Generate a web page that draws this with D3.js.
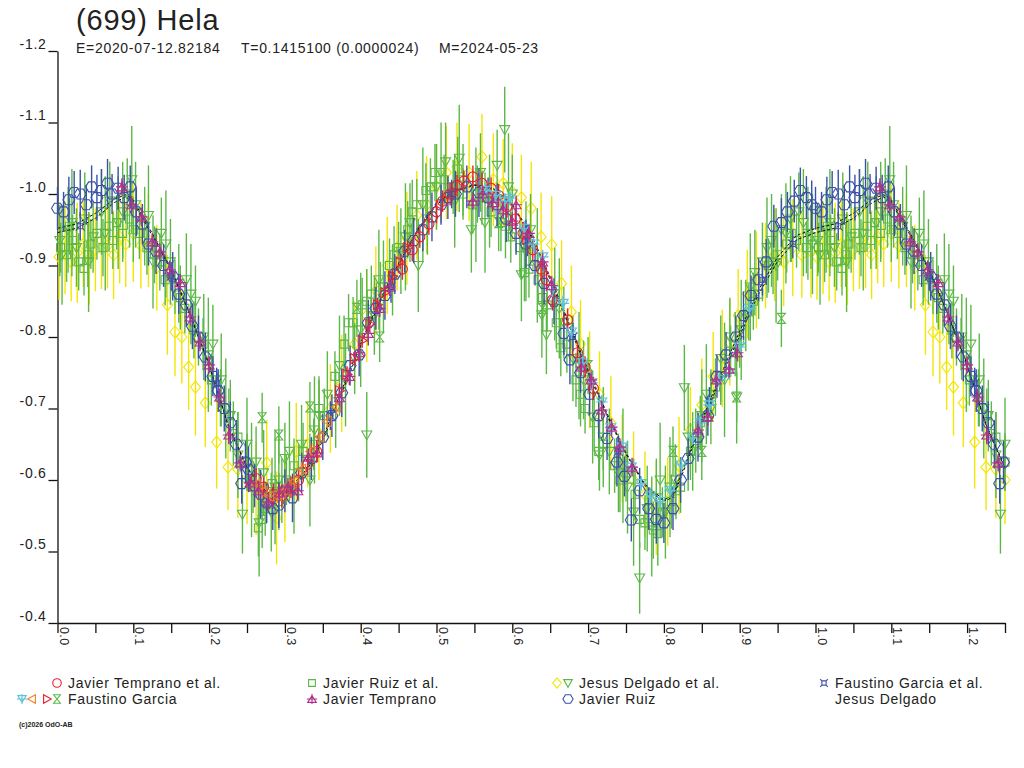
<!DOCTYPE html>
<html>
<head>
<meta charset="utf-8">
<script src="https://cdn.jsdelivr.net/npm/d3@7"></script>
<style>
  body { margin: 0; background: #fff; }
  text { font-family: "Liberation Sans", Arial, sans-serif; fill: #222; }
</style>
</head>
<body>
<svg id="grafico" width="1024" height="768"></svg>
<script>
// curva di luce (699) Hela - fase, magnitudine, errore

const titolo = '(699) Hela';
const sottotitolo = ['E=2020-07-12.82184', 'T=0.1415100 (0.0000024)', 'M=2024-05-23'];
const copyright = '(c)2026 OdO-AB';

const yTick = [-1.2, -1.1, -1.0, -0.9, -0.8, -0.7, -0.6, -0.5, -0.4];
const xTick = [0, 0.05, 0.1, 0.15, 0.2, 0.25, 0.3, 0.35, 0.4, 0.45, 0.5, 0.55, 0.6, 0.65,
               0.7, 0.75, 0.8, 0.85, 0.9, 0.95, 1.0, 1.05, 1.1, 1.15, 1.2, 1.25];
const xEtichette = [0, 0.1, 0.2, 0.3, 0.4, 0.5, 0.6, 0.7, 0.8, 0.9, 1.0, 1.1, 1.2];

// modello (due fit, linee tratteggiate)
const curvaA = [[0.000,-0.946],[0.025,-0.952],[0.050,-0.966],[0.075,-0.988],[0.090,-0.996],[0.100,-0.988],
  [0.125,-0.942],[0.150,-0.893],[0.175,-0.830],[0.200,-0.760],[0.225,-0.676],[0.250,-0.616],[0.275,-0.582],
  [0.288,-0.576],[0.300,-0.580],[0.325,-0.606],[0.350,-0.655],[0.375,-0.722],[0.400,-0.788],[0.425,-0.848],
  [0.450,-0.900],[0.475,-0.948],[0.500,-0.985],[0.525,-1.004],[0.550,-1.012],[0.575,-1.007],[0.600,-0.984],
  [0.625,-0.940],[0.650,-0.880],[0.675,-0.815],[0.700,-0.750],[0.725,-0.690],[0.750,-0.636],[0.775,-0.592],
  [0.800,-0.570],[0.812,-0.576],[0.825,-0.610],[0.850,-0.680],[0.875,-0.742],[0.900,-0.802],[0.925,-0.860],
  [0.950,-0.906],[0.975,-0.936],[1.000,-0.946]];
const curvaB = [[0.000,-0.952],[0.025,-0.958],[0.050,-0.973],[0.075,-0.993],[0.090,-0.999],[0.100,-0.991],
  [0.125,-0.945],[0.150,-0.895],[0.175,-0.832],[0.200,-0.762],[0.225,-0.678],[0.250,-0.618],[0.275,-0.584],
  [0.288,-0.578],[0.300,-0.582],[0.325,-0.610],[0.350,-0.659],[0.375,-0.726],[0.400,-0.792],[0.425,-0.851],
  [0.450,-0.903],[0.475,-0.950],[0.500,-0.987],[0.525,-1.006],[0.550,-1.013],[0.575,-1.008],[0.600,-0.986],
  [0.625,-0.943],[0.650,-0.884],[0.675,-0.819],[0.700,-0.754],[0.725,-0.693],[0.750,-0.638],[0.775,-0.594],
  [0.800,-0.572],[0.812,-0.579],[0.825,-0.614],[0.850,-0.684],[0.875,-0.747],[0.900,-0.808],[0.925,-0.866],
  [0.950,-0.912],[0.975,-0.942],[1.000,-0.952]];

// Javier Temprano et al. (cerchi rossi)
const jtEtAl = [[0.262,-0.602,0.015],[0.272,-0.590,0.014],[0.285,-0.580,0.015],[0.296,-0.578,0.016],
  [0.308,-0.590,0.015],[0.318,-0.600,0.014],[0.330,-0.622,0.015],[0.342,-0.640,0.016],[0.455,-0.895,0.015],
  [0.468,-0.922,0.016],[0.478,-0.940,0.015],[0.490,-0.958,0.015],[0.500,-0.975,0.016],[0.508,-0.990,0.015],
  [0.518,-1.000,0.016],[0.527,-1.012,0.015],[0.536,-1.018,0.015],[0.548,-1.024,0.016],[0.560,-1.015,0.015],
  [0.572,-1.008,0.015],[0.582,-0.998,0.016],[0.593,-0.982,0.015],[0.604,-0.965,0.015],[0.614,-0.945,0.016],
  [0.627,-0.922,0.015],[0.638,-0.895,0.015],[0.645,-0.880,0.016],[0.653,-0.852,0.015],[0.673,-0.824,0.016],
  [0.686,-0.778,0.015],[0.696,-0.758,0.015],[0.707,-0.728,0.016]];

// Javier Ruiz et al. (quadrati verdi)
const jrEtAl = [[0.004,-0.925,0.035],[0.012,-0.915,0.038],[0.020,-0.935,0.036],[0.028,-0.905,0.040],
  [0.035,-0.896,0.038],[0.044,-0.930,0.035],[0.052,-0.945,0.037],[0.060,-0.925,0.040],[0.068,-0.955,0.036],
  [0.078,-0.960,0.038],[0.086,-0.945,0.035],[0.095,-0.965,0.040],[0.108,-0.945,0.036],[0.118,-0.925,0.038],
  [0.128,-0.915,0.040],[0.142,-0.880,0.036],[0.155,-0.870,0.038],[0.168,-0.840,0.035],[0.180,-0.810,0.040],
  [0.192,-0.790,0.037],[0.203,-0.740,0.036],[0.215,-0.715,0.040],[0.226,-0.690,0.038],[0.238,-0.660,0.035],
  [0.250,-0.625,0.040],[0.258,-0.590,0.036],[0.265,-0.533,0.040],[0.274,-0.560,0.038],[0.283,-0.595,0.036],
  [0.292,-0.570,0.040],[0.302,-0.600,0.035],[0.312,-0.620,0.038],[0.324,-0.640,0.040],[0.338,-0.650,0.036],
  [0.352,-0.690,0.038],[0.366,-0.745,0.035],[0.378,-0.790,0.040],[0.390,-0.820,0.036],[0.402,-0.845,0.038],
  [0.414,-0.860,0.040],[0.426,-0.870,0.035],[0.438,-0.900,0.038],[0.450,-0.925,0.036],[0.462,-0.950,0.040],
  [0.474,-0.985,0.036],[0.486,-1.005,0.038],[0.498,-1.030,0.040],[0.510,-1.020,0.035],[0.522,-1.010,0.038],
  [0.535,-1.000,0.036],[0.548,-0.985,0.040],[0.560,-0.995,0.038],[0.572,-0.975,0.035],[0.585,-0.960,0.040],
  [0.598,-0.940,0.036],[0.610,-0.925,0.038],[0.622,-0.895,0.040],[0.634,-0.880,0.035],[0.646,-0.845,0.038],
  [0.658,-0.820,0.036],[0.672,-0.790,0.040],[0.684,-0.740,0.038],[0.696,-0.700,0.035],[0.708,-0.680,0.040],
  [0.720,-0.650,0.036],[0.735,-0.620,0.038],[0.750,-0.610,0.040],[0.762,-0.580,0.036],[0.775,-0.540,0.038],
  [0.786,-0.530,0.040],[0.798,-0.555,0.035],[0.810,-0.570,0.038],[0.822,-0.590,0.036],[0.835,-0.640,0.040],
  [0.848,-0.680,0.038],[0.862,-0.720,0.035],[0.875,-0.745,0.040],[0.888,-0.780,0.036],[0.900,-0.795,0.038],
  [0.912,-0.835,0.040],[0.925,-0.860,0.035],[0.938,-0.900,0.038],[0.950,-0.915,0.036],[0.962,-0.930,0.040],
  [0.975,-0.935,0.038],[0.988,-0.925,0.036],
  [0.016,-0.955,0.040],[0.040,-0.915,0.045],[0.073,-0.935,0.040],[0.100,-0.950,0.045],[0.135,-0.905,0.040],
  [0.162,-0.855,0.045],[0.186,-0.800,0.040],[0.232,-0.665,0.045],[0.270,-0.545,0.040],[0.296,-0.585,0.045],
  [0.318,-0.610,0.040],[0.345,-0.700,0.045],[0.384,-0.820,0.040],[0.408,-0.850,0.045],[0.444,-0.915,0.040],
  [0.468,-0.975,0.045],[0.492,-1.010,0.040],[0.528,-1.035,0.045],[0.554,-1.000,0.040],[0.591,-0.955,0.045],
  [0.616,-0.890,0.040],[0.640,-0.855,0.045],[0.664,-0.785,0.040],[0.690,-0.720,0.045],[0.714,-0.640,0.040],
  [0.742,-0.600,0.045],[0.768,-0.545,0.040],[0.792,-0.525,0.045],[0.816,-0.585,0.040],[0.842,-0.655,0.045],
  [0.868,-0.730,0.040],[0.894,-0.790,0.045],[0.918,-0.850,0.040],[0.944,-0.905,0.045],[0.968,-0.945,0.040],
  [0.994,-0.940,0.045]];

// Jesus Delgado et al. (rombi gialli)
const jdEtAlRombi = [[0.002,-0.912,0.060],[0.010,-0.925,0.065],[0.018,-0.905,0.055],[0.026,-0.918,0.070],
  [0.034,-0.930,0.060],[0.042,-0.910,0.065],[0.050,-0.922,0.058],[0.058,-0.935,0.068],[0.066,-0.928,0.060],
  [0.074,-0.915,0.062],[0.082,-0.940,0.065],[0.090,-0.930,0.060],[0.100,-0.945,0.068],[0.110,-0.928,0.060],
  [0.120,-0.935,0.065],[0.131,-0.897,0.060],[0.145,-0.845,0.070],[0.155,-0.807,0.062],[0.164,-0.800,0.065],
  [0.173,-0.758,0.060],[0.182,-0.730,0.068],[0.195,-0.708,0.062],[0.210,-0.653,0.065],[0.225,-0.618,0.060],
  [0.238,-0.615,0.068],[0.250,-0.600,0.062],[0.262,-0.588,0.065],[0.276,-0.624,0.060],[0.289,-0.547,0.065],
  [0.300,-0.575,0.062],[0.315,-0.640,0.068],[0.330,-0.650,0.060],[0.345,-0.665,0.065],[0.360,-0.700,0.062],
  [0.375,-0.735,0.068],[0.392,-0.790,0.060],[0.408,-0.830,0.065],[0.420,-0.865,0.062],[0.435,-0.900,0.068],
  [0.448,-0.925,0.060],[0.461,-0.938,0.065],[0.474,-0.970,0.062],[0.487,-0.985,0.068],[0.500,-1.010,0.060],
  [0.513,-1.030,0.065],[0.527,-1.038,0.062],[0.543,-1.030,0.068],[0.560,-1.052,0.060],[0.575,-1.020,0.065],
  [0.588,-1.015,0.062],[0.600,-1.003,0.068],[0.612,-0.995,0.060],[0.625,-0.980,0.065],[0.638,-0.940,0.062],
  [0.652,-0.929,0.068],[0.665,-0.875,0.060],[0.678,-0.835,0.065],[0.690,-0.790,0.062],[0.702,-0.740,0.068],
  [0.715,-0.720,0.060],[0.730,-0.680,0.065],[0.745,-0.630,0.062],[0.760,-0.600,0.068],[0.775,-0.580,0.060],
  [0.790,-0.560,0.065],[0.805,-0.570,0.062],[0.820,-0.620,0.068],[0.835,-0.670,0.060],[0.850,-0.705,0.065],
  [0.865,-0.745,0.062],[0.877,-0.770,0.068],[0.887,-0.792,0.060],[0.898,-0.830,0.065],[0.910,-0.860,0.062],
  [0.922,-0.880,0.068],[0.934,-0.900,0.060],[0.946,-0.915,0.065],[0.958,-0.905,0.062],[0.970,-0.925,0.068],
  [0.982,-0.915,0.060],[0.994,-0.920,0.065]];

// Jesus Delgado et al. (triangoli verdi)
const jdEtAlTri = [[0.003,-0.935,0.050],[0.014,-0.950,0.060],[0.025,-0.925,0.055],[0.036,-0.965,0.065],
  [0.047,-0.940,0.050],[0.058,-0.975,0.060],[0.069,-0.990,0.055],[0.080,-0.960,0.065],[0.092,-1.000,0.050],
  [0.103,-0.985,0.060],[0.115,-0.955,0.055],[0.126,-0.905,0.065],[0.137,-0.945,0.050],[0.149,-0.905,0.060],
  [0.160,-0.875,0.055],[0.170,-0.880,0.065],[0.182,-0.850,0.050],[0.193,-0.800,0.060],[0.205,-0.790,0.055],
  [0.216,-0.740,0.065],[0.228,-0.690,0.050],[0.238,-0.635,0.060],[0.244,-0.552,0.055],[0.250,-0.650,0.065],
  [0.262,-0.625,0.050],[0.272,-0.610,0.060],[0.282,-0.555,0.055],[0.292,-0.600,0.065],[0.300,-0.630,0.050],
  [0.312,-0.585,0.060],[0.322,-0.650,0.055],[0.333,-0.600,0.065],[0.345,-0.690,0.050],[0.356,-0.720,0.060],
  [0.367,-0.700,0.055],[0.380,-0.740,0.065],[0.392,-0.770,0.050],[0.408,-0.663,0.060],[0.418,-0.830,0.055],
  [0.430,-0.870,0.065],[0.442,-0.880,0.050],[0.453,-0.920,0.060],[0.465,-0.960,0.055],[0.476,-0.900,0.065],
  [0.488,-0.965,0.050],[0.500,-1.010,0.060],[0.512,-1.045,0.055],[0.524,-0.990,0.065],[0.535,-1.020,0.050],
  [0.546,-0.950,0.060],[0.558,-1.030,0.055],[0.570,-0.990,0.065],[0.580,-1.040,0.050],[0.590,-1.090,0.060],
  [0.600,-1.000,0.055],[0.612,-0.887,0.065],[0.624,-0.950,0.050],[0.639,-0.831,0.060],[0.645,-0.803,0.055],
  [0.656,-0.860,0.065],[0.668,-0.820,0.050],[0.680,-0.770,0.060],[0.694,-0.740,0.055],[0.706,-0.688,0.065],
  [0.715,-0.635,0.050],[0.728,-0.640,0.060],[0.740,-0.610,0.055],[0.752,-0.590,0.065],[0.768,-0.463,0.050],
  [0.778,-0.560,0.060],[0.790,-0.575,0.055],[0.802,-0.555,0.065],[0.815,-0.600,0.050],[0.827,-0.729,0.060],
  [0.838,-0.640,0.055],[0.850,-0.690,0.065],[0.862,-0.700,0.050],[0.875,-0.770,0.060],[0.887,-0.800,0.055],
  [0.896,-0.716,0.065],[0.908,-0.830,0.050],[0.920,-0.890,0.060],[0.930,-0.905,0.055],[0.942,-0.935,0.065],
  [0.955,-0.950,0.050],[0.967,-0.965,0.060],[0.978,-0.975,0.055],[0.990,-0.945,0.065],
  [0.006,-0.915,0.070],[0.019,-0.960,0.075],[0.041,-0.905,0.070],[0.063,-0.945,0.080],[0.086,-0.975,0.070],
  [0.098,-1.020,0.075],[0.120,-0.970,0.070],[0.143,-0.930,0.075],[0.176,-0.860,0.070],[0.199,-0.775,0.080],
  [0.222,-0.700,0.070],[0.256,-0.600,0.080],[0.266,-0.540,0.075],[0.287,-0.590,0.080],[0.306,-0.640,0.070],
  [0.339,-0.670,0.075],[0.372,-0.760,0.070],[0.400,-0.810,0.080],[0.424,-0.880,0.070],[0.459,-0.940,0.075],
  [0.482,-0.985,0.080],[0.506,-1.030,0.070],[0.530,-1.050,0.075],[0.552,-0.985,0.080],[0.564,-0.960,0.070],
  [0.595,-1.010,0.075],[0.618,-0.920,0.070],[0.633,-0.900,0.080],[0.662,-0.840,0.070],[0.688,-0.760,0.075],
  [0.720,-0.660,0.070],[0.746,-0.620,0.080],[0.760,-0.555,0.075],[0.784,-0.535,0.070],[0.795,-0.600,0.080],
  [0.808,-0.590,0.070],[0.832,-0.660,0.075],[0.856,-0.720,0.070],[0.880,-0.740,0.080],[0.902,-0.810,0.070],
  [0.914,-0.870,0.075],[0.936,-0.925,0.070],[0.948,-0.900,0.080],[0.961,-0.945,0.070],[0.984,-0.960,0.075],
  [0.996,-0.930,0.070]];

// Faustino Garcia et al. (quadratini blu)
const fgEtAl = [[0.030,-0.955,0.020],[0.150,-0.885,0.020],[0.210,-0.735,0.022],[0.360,-0.690,0.020],
  [0.440,-0.870,0.022],[0.520,-1.000,0.020],[0.620,-0.935,0.022],[0.680,-0.800,0.020],[0.740,-0.640,0.022],
  [0.860,-0.710,0.020],[0.930,-0.880,0.022],[0.970,-0.930,0.020]];

// Faustino Garcia (quattro sessioni)
const fgCiano = [[0.565,-1.005,0.010],[0.578,-0.998,0.010],[0.590,-0.990,0.011],[0.597,-0.994,0.010],
  [0.616,-0.952,0.010],[0.628,-0.930,0.011],[0.640,-0.912,0.010],[0.653,-0.866,0.010],[0.667,-0.847,0.011],
  [0.678,-0.807,0.010],[0.693,-0.764,0.010],[0.705,-0.736,0.011],[0.718,-0.709,0.010],[0.730,-0.673,0.010],
  [0.745,-0.646,0.011],[0.757,-0.618,0.010],[0.770,-0.595,0.010],[0.782,-0.578,0.011],[0.795,-0.570,0.010],
  [0.808,-0.585,0.010],[0.823,-0.621,0.011],[0.838,-0.659,0.010],[0.848,-0.680,0.010],[0.860,-0.705,0.011],
  [0.873,-0.740,0.010],[0.886,-0.750,0.010],[0.900,-0.786,0.011],[0.913,-0.840,0.010]];
const fgArancio = [[0.262,-0.594,0.010],[0.270,-0.584,0.011],[0.280,-0.577,0.010],[0.290,-0.578,0.010],
  [0.300,-0.585,0.011],[0.312,-0.598,0.010],[0.322,-0.615,0.010],[0.334,-0.640,0.011],[0.346,-0.660,0.010],
  [0.356,-0.682,0.010],[0.368,-0.702,0.011]];
const fgRosso = [[0.372,-0.725,0.010],[0.382,-0.748,0.011],[0.392,-0.770,0.010],[0.402,-0.795,0.010],
  [0.412,-0.818,0.011],[0.422,-0.845,0.010],[0.432,-0.862,0.010],[0.442,-0.885,0.011],[0.452,-0.905,0.010],
  [0.462,-0.925,0.010]];
const fgClessidra = [[0.270,-0.687,0.035],[0.292,-0.663,0.040],[0.333,-0.702,0.035],[0.395,-0.840,0.040],
  [0.425,-0.800,0.035],[0.582,-0.960,0.040],[0.640,-0.840,0.035],[0.700,-0.760,0.040],[0.812,-0.640,0.035],
  [0.850,-0.640,0.040],[0.896,-0.716,0.035],[0.955,-0.826,0.040]];

// Javier Temprano (magenta)
const jTemprano = [[0.085,-1.010,0.012],[0.098,-0.985,0.012],[0.111,-0.968,0.013],[0.125,-0.933,0.012],
  [0.135,-0.919,0.012],[0.148,-0.894,0.013],[0.162,-0.876,0.012],[0.175,-0.828,0.012],[0.188,-0.793,0.013],
  [0.200,-0.761,0.012],[0.214,-0.716,0.012],[0.226,-0.663,0.013],[0.241,-0.624,0.012],[0.254,-0.596,0.012],
  [0.265,-0.585,0.013],[0.278,-0.569,0.012],[0.293,-0.582,0.012],[0.304,-0.590,0.013],[0.317,-0.585,0.012],
  [0.331,-0.632,0.012],[0.343,-0.638,0.013],[0.372,-0.715,0.012],[0.385,-0.745,0.012],[0.398,-0.778,0.013],
  [0.410,-0.805,0.012],[0.425,-0.840,0.012],[0.438,-0.870,0.013],[0.548,-0.990,0.012],[0.561,-1.000,0.012],
  [0.574,-0.988,0.013],[0.588,-0.978,0.012],[0.600,-0.962,0.012],[0.605,-0.985,0.013],[0.622,-0.945,0.012],
  [0.640,-0.905,0.012],[0.652,-0.872,0.013],[0.691,-0.758,0.012],[0.704,-0.740,0.012],[0.718,-0.698,0.013],
  [0.731,-0.674,0.012],[0.742,-0.646,0.012],[0.758,-0.618,0.013],[0.845,-0.670,0.012],[0.858,-0.688,0.012],
  [0.869,-0.740,0.013],[0.886,-0.755,0.012],[0.897,-0.778,0.012]];

// Javier Ruiz (esagoni blu)
const jRuiz = [[0.000,-0.980,0.030],[0.008,-0.975,0.028],[0.015,-0.992,0.032],[0.022,-1.002,0.030],
  [0.030,-1.000,0.034],[0.038,-0.985,0.028],[0.045,-1.010,0.030],[0.052,-0.995,0.032],[0.058,-1.005,0.030],
  [0.066,-1.015,0.034],[0.072,-1.000,0.028],[0.080,-1.008,0.030],[0.088,-0.995,0.032],[0.096,-1.010,0.030],
  [0.104,-0.975,0.034],[0.112,-0.958,0.028],[0.120,-0.930,0.030],[0.130,-0.920,0.032],[0.140,-0.900,0.030],
  [0.152,-0.885,0.034],[0.160,-0.860,0.028],[0.170,-0.845,0.030],[0.178,-0.815,0.032],[0.186,-0.800,0.030],
  [0.195,-0.772,0.034],[0.205,-0.745,0.028],[0.212,-0.725,0.030],[0.220,-0.700,0.032],[0.228,-0.680,0.030],
  [0.236,-0.650,0.034],[0.243,-0.595,0.028],[0.248,-0.625,0.030],[0.252,-0.615,0.032],[0.260,-0.592,0.030],
  [0.268,-0.580,0.034],[0.276,-0.568,0.028],[0.284,-0.560,0.030],[0.292,-0.565,0.032],[0.300,-0.585,0.030],
  [0.310,-0.575,0.034],[0.322,-0.610,0.028],[0.335,-0.630,0.030],[0.350,-0.660,0.032],[0.362,-0.690,0.030],
  [0.375,-0.722,0.034],[0.386,-0.760,0.028],[0.398,-0.775,0.030],[0.410,-0.820,0.032],[0.420,-0.840,0.030],
  [0.432,-0.858,0.034],[0.445,-0.888,0.028],[0.458,-0.920,0.030],[0.470,-0.935,0.032],[0.482,-0.950,0.030],
  [0.494,-0.968,0.034],[0.506,-0.985,0.028],[0.515,-0.995,0.030],[0.525,-1.000,0.032],[0.540,-1.010,0.030],
  [0.556,-1.002,0.034],[0.568,-0.995,0.028],[0.580,-0.985,0.030],[0.592,-0.965,0.032],[0.605,-0.945,0.030],
  [0.618,-0.930,0.034],[0.630,-0.900,0.028],[0.642,-0.875,0.030],[0.655,-0.850,0.032],[0.668,-0.805,0.030],
  [0.676,-0.768,0.034],[0.690,-0.750,0.028],[0.702,-0.720,0.030],[0.714,-0.690,0.032],[0.725,-0.658,0.030],
  [0.738,-0.625,0.034],[0.748,-0.605,0.028],[0.757,-0.544,0.030],[0.768,-0.585,0.032],[0.780,-0.560,0.030],
  [0.790,-0.545,0.034],[0.800,-0.540,0.028],[0.812,-0.560,0.030],[0.822,-0.600,0.032],[0.832,-0.630,0.030],
  [0.845,-0.660,0.034],[0.858,-0.690,0.028],[0.870,-0.745,0.030],[0.882,-0.775,0.032],[0.895,-0.800,0.030],
  [0.905,-0.830,0.034],[0.915,-0.858,0.028],[0.925,-0.880,0.030],[0.935,-0.905,0.032],[0.945,-0.955,0.030],
  [0.955,-0.960,0.034],[0.963,-0.975,0.028],[0.972,-0.990,0.030],[0.980,-1.005,0.032],[0.988,-0.995,0.030],
  [0.995,-0.985,0.034]];

const ROSSO = '#e8202c', VERDE = '#5cb846', GIALLO = '#f2e600', BLU = '#3a50a8',
      CIANO = '#5ec4dc', ARANCIO = '#f0802a', MAGENTA = '#b0308c';

// forme dei simboli centrate in (0,0)
const simboli = {
    cerchio:   'M-5,0a5,5 0 1,0 10,0a5,5 0 1,0 -10,0',
    quadrato:  'M-4,-4h8v8h-8z',
    rombo:     'M0,-6L5,0L0,6L-5,0Z',
    triGiu:    'M-5,-4L5,-4L0,5Z',
    esagono:   'M-6,0L-3,-5L3,-5L6,0L3,5L-3,5Z',
    quadX:     'M-2.5,-2.5h5v5h-5zM-4.5,-4.5L-2.5,-2.5M4.5,-4.5L2.5,-2.5M-4.5,4.5L-2.5,2.5M4.5,4.5L2.5,2.5',
    triSin:    'M4,-5L-5,0L4,5Z',
    triDes:    'M-4,-5L5,0L-4,5Z',
    clessidra: 'M-4,-5L4,-5L-4,5L4,5Z',
    stellaSu:  'M-5,4L0,-4L5,4ZM0,-6V6M-6,0H6',
    stellaGiu: 'M-5,-4L5,-4L0,4ZM0,-6V6M-6,0H6'
};

// ordine di disegno: gli ultimi stanno sopra
const serie = [
    { dati: jdEtAlRombi, colore: GIALLO,  simbolo: 'rombo' },
    { dati: jdEtAlTri,   colore: VERDE,   simbolo: 'triGiu' },
    { dati: jrEtAl,      colore: VERDE,   simbolo: 'quadrato' },
    { dati: fgClessidra, colore: VERDE,   simbolo: 'clessidra' },
    { modello: true },
    { dati: jRuiz,       colore: BLU,     simbolo: 'esagono' },
    { dati: fgEtAl,      colore: BLU,     simbolo: 'quadX' },
    { dati: jtEtAl,      colore: ROSSO,   simbolo: 'cerchio' },
    { dati: fgArancio,   colore: ARANCIO, simbolo: 'triSin' },
    { dati: fgRosso,     colore: ROSSO,   simbolo: 'triDes' },
    { dati: fgCiano,     colore: CIANO,   simbolo: 'stellaGiu' },
    { dati: jTemprano,   colore: MAGENTA, simbolo: 'stellaSu' }
];

const legenda = [
    { testo: 'Javier Temprano et al.', simboli: [['cerchio', ROSSO]] },
    { testo: 'Javier Ruiz et al.',     simboli: [['quadrato', VERDE]] },
    { testo: 'Jesus Delgado et al.',   simboli: [['rombo', GIALLO], ['triGiu', VERDE]] },
    { testo: 'Faustino Garcia et al.', simboli: [['quadX', BLU]] },
    { testo: 'Faustino Garcia',        simboli: [['stellaGiu', CIANO], ['triSin', ARANCIO], ['triDes', ROSSO], ['clessidra', VERDE]] },
    { testo: 'Javier Temprano',        simboli: [['stellaSu', MAGENTA]] },
    { testo: 'Javier Ruiz',            simboli: [['esagono', BLU]] },
    { testo: 'Jesus Delgado',          simboli: [] }
];

// il grafico mostra 1.25 periodi: i punti con fase <= 0.25 si ripetono dopo 1.0
function ripeti(dati) {
    return dati.concat(dati.filter(d => d[0] <= 0.25).map(d => [d[0] + 1, d[1], d[2]]));
}

const svg = d3.select('#grafico');
const x = d3.scaleLinear().domain([0, 1.25]).range([57.5, 1005]);
const y = d3.scaleLinear().domain([-1.2, -0.4]).range([51, 623]);

// titolo e parametri
svg.append('text').attr('x', 76).attr('y', 30)
    .style('font-size', '29px').style('letter-spacing', '0.8px').text(titolo);
[76, 241, 439].forEach((px, i) => {
    svg.append('text').attr('x', px).attr('y', 53)
        .style('font-size', '14px').style('letter-spacing', '0.7px').text(sottotitolo[i]);
});

// assi
const asseY = svg.append('g').attr('transform', 'translate(57.5,0)')
    .call(d3.axisLeft(y).tickValues(yTick).tickSize(9).tickSizeOuter(0).tickPadding(2)
        .tickFormat(d => d.toFixed(1)));
asseY.selectAll('text').attr('dy', '-0.2em')
    .style('font-size', '14px').style('letter-spacing', '0.7px').style('font-family', '"Liberation Sans", Arial, sans-serif');

const asseX = svg.append('g').attr('transform', 'translate(0,623)')
    .call(d3.axisBottom(x).tickValues(xTick).tickSize(10).tickSizeOuter(0)
        .tickFormat(d => xEtichette.some(e => Math.abs(e - d) < 1e-9) ? d.toFixed(1) : ''));
asseX.selectAll('text')
    .attr('transform', 'rotate(90)')
    .attr('x', 4).attr('y', -1.5).attr('dy', 0)
    .attr('text-anchor', 'start')
    .style('font-size', '12.5px').style('letter-spacing', '0.4px').style('font-family', '"Liberation Sans", Arial, sans-serif');

svg.selectAll('.domain, .tick line').attr('stroke', '#111').attr('stroke-width', 1.3);

// punti, barre d'errore e modello
const linea = d3.line().x(d => x(d[0])).y(d => y(d[1]));
const area = svg.append('g');

serie.forEach(s => {
    if (s.modello) {
        [curvaA, curvaB].forEach(c => {
            const tutta = c.concat(c.filter(d => d[0] > 0 && d[0] <= 0.25).map(d => [d[0] + 1, d[1]]));
            area.append('path').attr('d', linea(tutta))
                .attr('fill', 'none').attr('stroke', '#111').attr('stroke-width', 1)
                .attr('stroke-dasharray', '3,2');
        });
        return;
    }
    const punti = ripeti(s.dati);
    const g = area.append('g');
    g.selectAll('line').data(punti).join('line')
        .attr('x1', d => x(d[0])).attr('x2', d => x(d[0]))
        .attr('y1', d => y(d[1] - d[2])).attr('y2', d => y(d[1] + d[2]))
        .attr('stroke', s.colore).attr('stroke-width', 1.4);
    g.selectAll('path').data(punti).join('path')
        .attr('transform', d => `translate(${x(d[0])},${y(d[1])})`)
        .attr('d', simboli[s.simbolo])
        .attr('fill', 'none').attr('stroke', s.colore).attr('stroke-width', 1.1);
});

// legenda: 4 colonne, 2 righe
const colTesto = [68, 323, 579, 835];
legenda.forEach((voce, i) => {
    const col = i % 4, riga = Math.floor(i / 4);
    const yy = 683 + riga * 16;
    const xt = colTesto[col];
    const n = voce.simboli.length;
    voce.simboli.forEach((sm, j) => {
        // simboli allineati a destra prima del testo
        const passo = n === 4 ? [46, 36, 21, 11][j] : (n === 2 ? [22, 11][j] : 11);
        svg.append('path')
            .attr('transform', `translate(${xt - passo},${yy}) scale(0.85)`)
            .attr('d', simboli[sm[0]])
            .attr('fill', 'none').attr('stroke', sm[1]).attr('stroke-width', 1.3);
    });
    svg.append('text').attr('x', xt).attr('y', yy + 5)
        .style('font-size', '14px').style('letter-spacing', '0.7px').text(voce.testo);
});

svg.append('text').attr('x', 19).attr('y', 727)
    .style('font-size', '7px').style('font-weight', 'bold').text(copyright);
</script>
</body>
</html>
